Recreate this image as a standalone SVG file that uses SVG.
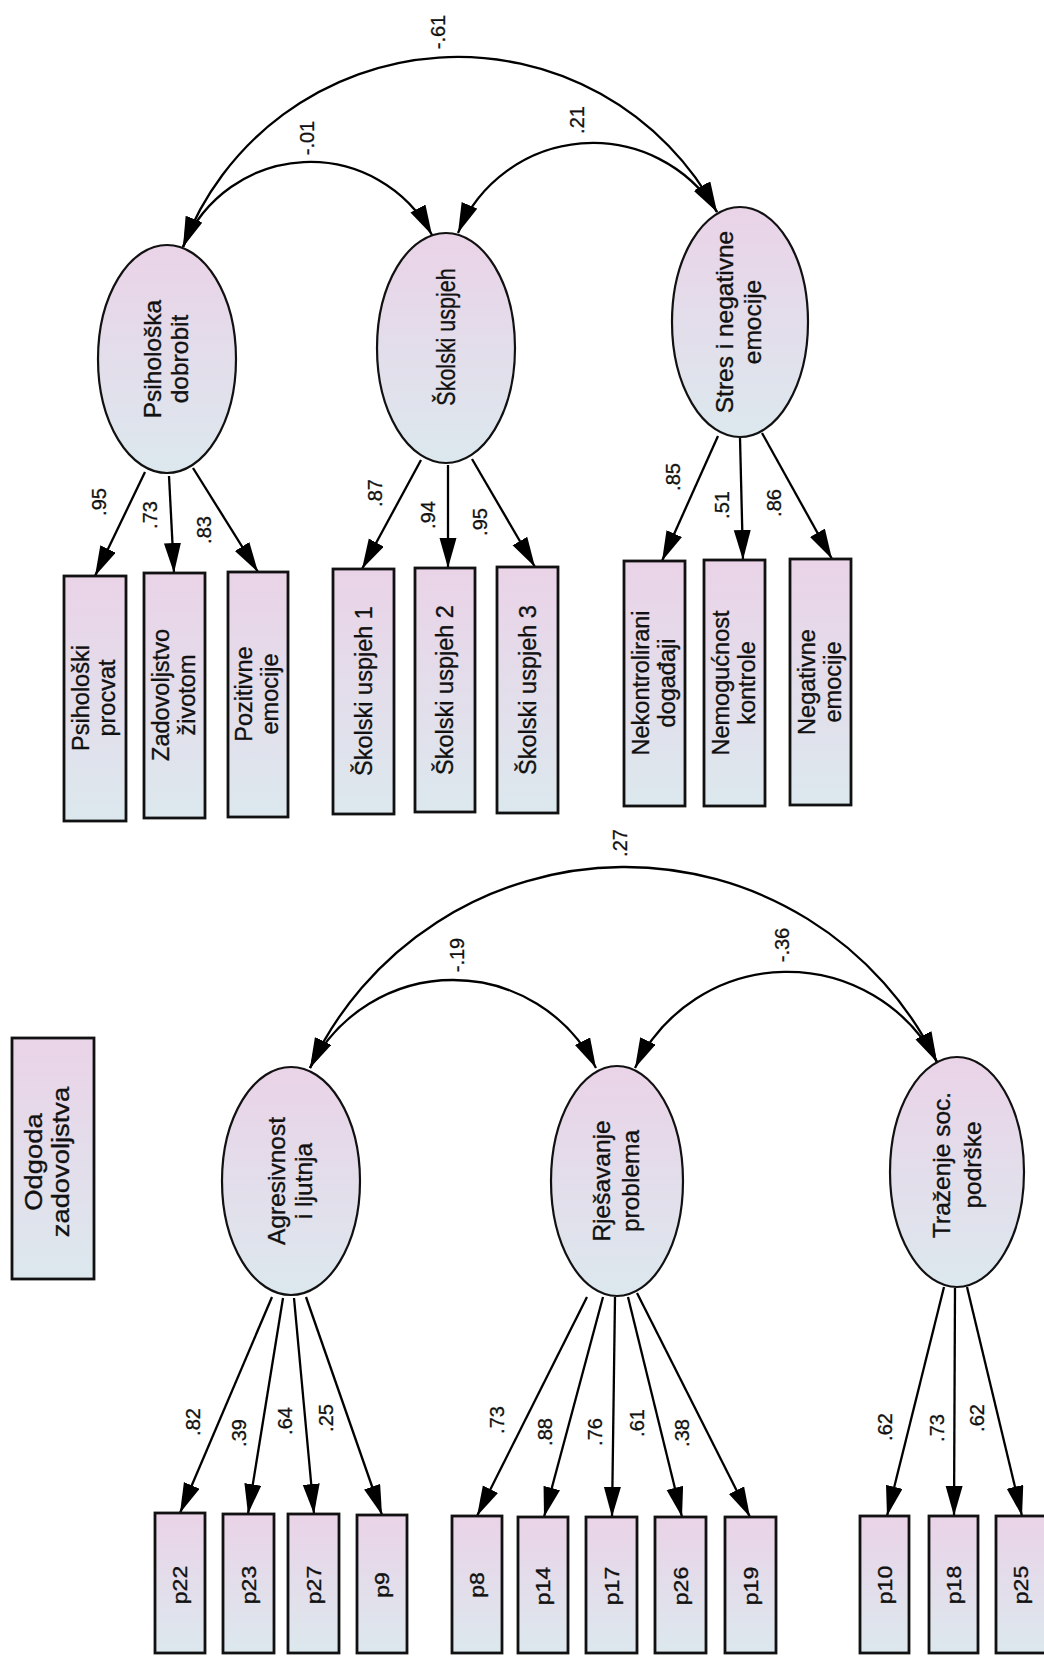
<svg xmlns="http://www.w3.org/2000/svg" width="1044" height="1657" viewBox="0 0 1044 1657">
<defs>
<linearGradient id="g" x1="0" y1="0" x2="0" y2="1">
<stop offset="0" stop-color="#ead3e7"/>
<stop offset="1" stop-color="#dce8ee"/>
</linearGradient>
<marker id="ah" markerUnits="userSpaceOnUse" markerWidth="32" markerHeight="18" refX="30" refY="8.5" orient="auto-start-reverse">
<path d="M0,0 L30,8.5 L0,17 z" fill="#000"/>
</marker>
<style>
.box{fill:url(#g);stroke:#111;stroke-width:2.8}
.lat{fill:url(#g);stroke:#111;stroke-width:2.2}
.t{font-family:"Liberation Sans",Arial,sans-serif;fill:#111;stroke:#111;stroke-width:0.35;text-anchor:middle}
.r{font-size:23.5px}
.e{font-size:24.5px}
.p{font-size:19.5px}
.c{font-family:"Liberation Sans",Arial,sans-serif;fill:#111;stroke:#111;stroke-width:0.3;text-anchor:middle;font-size:20px}
.ln{fill:none;stroke:#000;stroke-width:2.3;marker-end:url(#ah)}
.arc{fill:none;stroke:#000;stroke-width:2.3;marker-start:url(#ah);marker-end:url(#ah)}
</style>
</defs>
<rect width="1044" height="1657" fill="#fff"/>

<g id="connectors">
<path class="arc" d="M183,247 A137.8,137.8 0 0 1 432,235"/>
<path class="arc" d="M458,233 A146.1,146.1 0 0 1 717,212"/>
<path class="arc" d="M183,247 A293.9,293.9 0 0 1 717,212"/>
<path class="arc" d="M310,1068 A160.2,160.2 0 0 1 596,1068"/>
<path class="arc" d="M635,1068 A169,169 0 0 1 937,1062"/>
<path class="arc" d="M310,1068 A347.2,347.2 0 0 1 937,1062"/>

<path class="ln" d="M145,472 L95,576"/>
<path class="ln" d="M169,476 L174,573"/>
<path class="ln" d="M193,468 L258,572"/>
<path class="ln" d="M421,460 L362,569"/>
<path class="ln" d="M448,465 L448,568"/>
<path class="ln" d="M472,459 L535,567"/>
<path class="ln" d="M718,436 L662,561"/>
<path class="ln" d="M740,438 L743,560"/>
<path class="ln" d="M762,433 L832,559"/>

<path class="ln" d="M272,1297 L180,1513"/>
<path class="ln" d="M283,1298 L248,1514"/>
<path class="ln" d="M294,1298 L314,1514"/>
<path class="ln" d="M306,1297 L382,1515"/>
<path class="ln" d="M587,1297 L477,1516"/>
<path class="ln" d="M603,1297 L544,1517"/>
<path class="ln" d="M615,1297 L612,1517"/>
<path class="ln" d="M628,1297 L682,1517"/>
<path class="ln" d="M637,1293 L750,1517"/>
<path class="ln" d="M944,1287 L887,1516"/>
<path class="ln" d="M955,1288 L954,1516"/>
<path class="ln" d="M967,1287 L1022,1516"/>

<text class="c" transform="translate(438,32) rotate(-90)" y="7">-.61</text>
<text class="c" transform="translate(307,138) rotate(-90)" y="7">-.01</text>
<text class="c" transform="translate(577,120) rotate(-90)" y="7">.21</text>
<text class="c" transform="translate(99,502) rotate(-90)" y="7">.95</text>
<text class="c" transform="translate(150,515) rotate(-90)" y="7">.73</text>
<text class="c" transform="translate(204,530) rotate(-90)" y="7">.83</text>
<text class="c" transform="translate(375,493) rotate(-90)" y="7">.87</text>
<text class="c" transform="translate(428,515) rotate(-90)" y="7">.94</text>
<text class="c" transform="translate(480,522) rotate(-90)" y="7">.95</text>
<text class="c" transform="translate(673,477) rotate(-90)" y="7">.85</text>
<text class="c" transform="translate(722,505) rotate(-90)" y="7">.51</text>
<text class="c" transform="translate(774,503) rotate(-90)" y="7">.86</text>
<text class="c" transform="translate(457,955) rotate(-90)" y="7">-.19</text>
<text class="c" transform="translate(782,945) rotate(-90)" y="7">-.36</text>
<text class="c" transform="translate(620,843) rotate(-90)" y="7">.27</text>
<text class="c" transform="translate(193,1422) rotate(-90)" y="7">.82</text>
<text class="c" transform="translate(239,1433) rotate(-90)" y="7">.39</text>
<text class="c" transform="translate(285,1421) rotate(-90)" y="7">.64</text>
<text class="c" transform="translate(326,1418) rotate(-90)" y="7">.25</text>
<text class="c" transform="translate(497,1420) rotate(-90)" y="7">.73</text>
<text class="c" transform="translate(545,1432) rotate(-90)" y="7">.88</text>
<text class="c" transform="translate(595,1432) rotate(-90)" y="7">.76</text>
<text class="c" transform="translate(637,1423) rotate(-90)" y="7">.61</text>
<text class="c" transform="translate(682,1433) rotate(-90)" y="7">.38</text>
<text class="c" transform="translate(885,1427) rotate(-90)" y="7">.62</text>
<text class="c" transform="translate(937,1428) rotate(-90)" y="7">.73</text>
<text class="c" transform="translate(977,1418) rotate(-90)" y="7">.62</text>
</g>

<g id="psiholoska-dobrobit">
<ellipse class="lat" cx="167" cy="359" rx="69" ry="114"/>
<text class="t e" transform="translate(167,359) rotate(-90)"><tspan x="0" y="-6">Psihološka</tspan><tspan x="0" y="21">dobrobit</tspan></text>
</g>
<g id="skolski-uspjeh">
<ellipse class="lat" cx="446" cy="348" rx="69" ry="115"/>
<text class="t" style="font-size:25px" transform="translate(446,337) rotate(-90) scale(0.86,1)" y="9">Školski uspjeh</text>
</g>
<g id="stres">
<ellipse class="lat" cx="740" cy="322" rx="68" ry="115"/>
<text class="t e" transform="translate(740,322) rotate(-90)"><tspan x="0" y="-7">Stres i negativne</tspan><tspan x="0" y="21">emocije</tspan></text>
</g>

<g id="psiholoski-procvat">
<rect class="box" x="64" y="576" width="62" height="245"/>
<text class="t r" transform="translate(95,698) rotate(-90)"><tspan x="0" y="-6">Psihološki</tspan><tspan x="0" y="20">procvat</tspan></text>
</g>
<g id="zadovoljstvo-zivotom">
<rect class="box" x="144" y="573" width="61" height="245"/>
<text class="t r" transform="translate(174.5,695) rotate(-90)"><tspan x="0" y="-6">Zadovoljstvo</tspan><tspan x="0" y="20">životom</tspan></text>
</g>
<g id="pozitivne-emocije">
<rect class="box" x="228" y="572" width="60" height="245"/>
<text class="t r" transform="translate(258,694) rotate(-90)"><tspan x="0" y="-6">Pozitivne</tspan><tspan x="0" y="20">emocije</tspan></text>
</g>
<g id="skolski-uspjeh-1">
<rect class="box" x="333" y="569" width="61" height="245"/>
<text class="t r" transform="translate(363.5,691) rotate(-90)" y="8">Školski uspjeh 1</text>
</g>
<g id="skolski-uspjeh-2">
<rect class="box" x="415" y="568" width="60" height="244"/>
<text class="t r" transform="translate(445,690) rotate(-90)" y="8">Školski uspjeh 2</text>
</g>
<g id="skolski-uspjeh-3">
<rect class="box" x="497" y="567" width="61" height="246"/>
<text class="t r" transform="translate(527.5,690) rotate(-90)" y="8">Školski uspjeh 3</text>
</g>
<g id="nekontrolirani-dogadaji">
<rect class="box" x="624" y="561" width="61" height="245"/>
<text class="t r" transform="translate(654.5,683) rotate(-90)"><tspan x="0" y="-6">Nekontrolirani</tspan><tspan x="0" y="20">događaji</tspan></text>
</g>
<g id="nemogucnost-kontrole">
<rect class="box" x="704" y="560" width="61" height="246"/>
<text class="t r" transform="translate(734.5,683) rotate(-90)"><tspan x="0" y="-6">Nemogućnost</tspan><tspan x="0" y="20">kontrole</tspan></text>
</g>
<g id="negativne-emocije">
<rect class="box" x="790" y="559" width="61" height="246"/>
<text class="t r" transform="translate(820.5,682) rotate(-90)"><tspan x="0" y="-6">Negativne</tspan><tspan x="0" y="20">emocije</tspan></text>
</g>

<g id="odgoda-zadovoljstva">
<rect class="box" x="12" y="1038" width="82" height="241"/>
<text class="t" style="font-size:24px" transform="translate(53,1162) rotate(-90) scale(1.14,1)"><tspan x="0" y="-11">Odgoda</tspan><tspan x="0" y="16">zadovoljstva</tspan></text>
</g>

<g id="agresivnost">
<ellipse class="lat" cx="291" cy="1181" rx="69" ry="114"/>
<text class="t e" transform="translate(291,1181) rotate(-90)"><tspan x="0" y="-6">Agresivnost</tspan><tspan x="0" y="21">i ljutnja</tspan></text>
</g>
<g id="rjesavanje-problema">
<ellipse class="lat" cx="617" cy="1181" rx="66" ry="115"/>
<text class="t e" transform="translate(617,1181) rotate(-90)"><tspan x="0" y="-7">Rješavanje</tspan><tspan x="0" y="22">problema</tspan></text>
</g>
<g id="trazenje-soc-podrske">
<ellipse class="lat" cx="957" cy="1172" rx="67" ry="115"/>
<text class="t e" transform="translate(957,1165) rotate(-90)"><tspan x="0" y="-7">Traženje soc.</tspan><tspan x="0" y="24">podrške</tspan></text>
</g>

<g id="p22"><rect class="box" x="155" y="1513" width="50" height="140"/><text class="t p" transform="translate(180,1585) rotate(-90) scale(1.18,1)" y="7">p22</text></g>
<g id="p23"><rect class="box" x="223" y="1514" width="51" height="139"/><text class="t p" transform="translate(248.5,1585) rotate(-90) scale(1.18,1)" y="7">p23</text></g>
<g id="p27"><rect class="box" x="288" y="1514" width="51" height="139"/><text class="t p" transform="translate(313.5,1585) rotate(-90) scale(1.18,1)" y="7">p27</text></g>
<g id="p9"><rect class="box" x="357" y="1515" width="50" height="138"/><text class="t p" transform="translate(382,1585) rotate(-90) scale(1.18,1)" y="7">p9</text></g>
<g id="p8"><rect class="box" x="452" y="1516" width="50" height="137"/><text class="t p" transform="translate(477,1585) rotate(-90) scale(1.18,1)" y="7">p8</text></g>
<g id="p14"><rect class="box" x="518" y="1517" width="50" height="136"/><text class="t p" transform="translate(543,1586) rotate(-90) scale(1.18,1)" y="7">p14</text></g>
<g id="p17"><rect class="box" x="586" y="1517" width="51" height="136"/><text class="t p" transform="translate(611.5,1586) rotate(-90) scale(1.18,1)" y="7">p17</text></g>
<g id="p26"><rect class="box" x="655" y="1517" width="51" height="136"/><text class="t p" transform="translate(680.5,1586) rotate(-90) scale(1.18,1)" y="7">p26</text></g>
<g id="p19"><rect class="box" x="725" y="1517" width="51" height="136"/><text class="t p" transform="translate(750.5,1586) rotate(-90) scale(1.18,1)" y="7">p19</text></g>
<g id="p10"><rect class="box" x="860" y="1516" width="49" height="137"/><text class="t p" transform="translate(884.5,1585) rotate(-90) scale(1.18,1)" y="7">p10</text></g>
<g id="p18"><rect class="box" x="929" y="1516" width="49" height="137"/><text class="t p" transform="translate(953.5,1585) rotate(-90) scale(1.18,1)" y="7">p18</text></g>
<g id="p25"><rect class="box" x="996" y="1516" width="50" height="137"/><text class="t p" transform="translate(1021,1585) rotate(-90) scale(1.18,1)" y="7">p25</text></g>
</svg>
